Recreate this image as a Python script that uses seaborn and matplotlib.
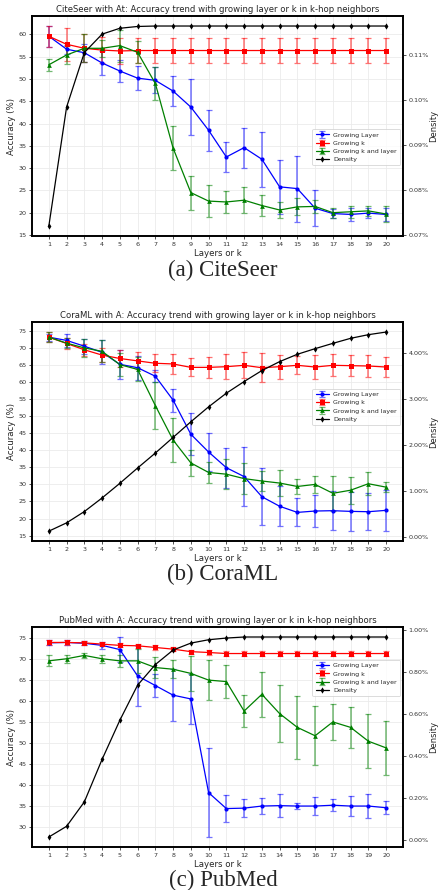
import numpy as np
import matplotlib
matplotlib.use("Agg")
import matplotlib.pyplot as plt
import seaborn as sns
from matplotlib.ticker import MultipleLocator, FuncFormatter

# ---------------- data ----------------
layers = list(range(1, 21))

# CiteSeer
cs_layer = [59.6, 56.7, 55.9, 53.6, 51.8, 50.2, 49.7, 47.3, 43.7, 38.5,
            32.5, 34.6, 32.0, 25.8, 25.4, 21.0, 19.8, 19.6, 19.9, 19.6]
cs_layer_err = [2.3, 1.0, 2.0, 2.8, 2.4, 2.7, 2.9, 3.4, 6.3, 4.6,
                3.4, 4.5, 6.2, 6.1, 7.4, 4.0, 1.0, 1.4, 1.2, 1.5]
cs_k = [59.6, 57.8, 56.9, 56.5, 56.3, 56.4, 56.4, 56.4, 56.4, 56.4,
        56.4, 56.4, 56.4, 56.4, 56.4, 56.4, 56.4, 56.4, 56.4, 56.4]
cs_k_err = [2.3, 3.7, 3.1, 3.0, 3.0, 2.9, 2.9, 2.9, 2.9, 2.9,
            2.9, 2.9, 2.9, 2.9, 2.9, 2.9, 2.9, 2.9, 2.9, 2.9]
cs_kl = [53.2, 55.4, 56.9, 56.9, 57.5, 56.0, 49.0, 34.5, 24.5, 22.6,
         22.4, 22.8, 21.6, 20.6, 21.3, 21.4, 20.0, 20.2, 20.4, 19.7]
cs_kl_err = [1.35, 2.0, 3.1, 1.9, 3.6, 2.5, 3.6, 5.0, 3.8, 3.55,
             2.5, 2.9, 2.3, 1.8, 1.9, 1.5, 1.1, 1.4, 1.2, 1.8]
cs_density = [0.0720, 0.0984, 0.1105, 0.1146, 0.1159, 0.1163, 0.1164, 0.1164, 0.1164, 0.1164,
              0.1164, 0.1164, 0.1164, 0.1164, 0.1164, 0.1164, 0.1164, 0.1164, 0.1164, 0.1164]

# CoraML
cm_layer = [73.15, 72.2, 70.5, 68.7, 65.2, 64.2, 61.7, 54.7, 44.7, 39.5,
            34.9, 32.3, 26.4, 23.6, 21.8, 22.2, 22.3, 22.1, 22.0, 22.4]
cm_layer_err = [1.0, 1.9, 2.2, 3.5, 4.3, 3.5, 1.8, 3.35, 6.1, 5.5,
                5.9, 8.7, 8.3, 5.85, 4.1, 4.7, 5.65, 5.8, 5.35, 6.1]
cm_k = [73.15, 71.3, 69.45, 67.9, 66.9, 66.2, 65.5, 65.3, 64.3, 64.3,
        64.5, 64.9, 64.2, 64.5, 64.9, 64.4, 64.9, 64.8, 64.7, 64.4]
cm_k_err = [1.5, 1.5, 1.75, 2.0, 2.5, 2.5, 2.6, 2.8, 2.6, 3.0,
            3.6, 3.85, 4.2, 3.5, 2.6, 3.65, 3.2, 3.1, 3.3, 3.0]
cm_kl = [73.15, 71.4, 70.0, 69.0, 65.1, 63.7, 53.1, 43.0, 36.3, 33.5,
         33.0, 31.7, 31.0, 30.4, 29.4, 30.0, 27.4, 28.3, 30.2, 29.2]
cm_kl_err = [1.5, 1.5, 2.6, 3.2, 3.4, 3.5, 6.9, 6.5, 3.75, 3.0,
             4.4, 4.6, 2.8, 3.7, 2.2, 2.4, 5.1, 3.9, 3.3, 1.5]
cm_density = [0.137, 0.317, 0.562, 0.857, 1.174, 1.506, 1.830, 2.169, 2.507, 2.831,
              3.127, 3.379, 3.617, 3.811, 3.970, 4.092, 4.207, 4.316, 4.395, 4.452]

# PubMed
pm_layer = [73.9, 74.0, 73.8, 73.3, 72.3, 66.0, 63.7, 61.4, 60.5, 38.1,
            34.3, 34.4, 34.9, 35.0, 34.9, 34.9, 35.1, 34.9, 34.9, 34.5]
pm_layer_err = [0.6, 0.5, 0.5, 0.9, 3.0, 7.2, 2.8, 6.2, 6.0, 10.6,
                3.2, 2.2, 2.0, 2.8, 0.7, 2.1, 1.4, 2.3, 2.8, 1.6]
pm_k = [74.0, 74.0, 73.9, 73.6, 73.3, 73.2, 72.8, 72.4, 71.8, 71.6,
        71.35, 71.35, 71.35, 71.35, 71.35, 71.35, 71.35, 71.35, 71.35, 71.35]
pm_k_err = [0.5, 0.5, 0.5, 0.5, 0.5, 0.5, 0.5, 0.5, 0.5, 0.5,
            0.5, 0.5, 0.5, 0.5, 0.5, 0.5, 0.5, 0.5, 0.5, 0.5]
pm_kl = [69.6, 70.1, 70.9, 70.1, 69.6, 69.6, 68.0, 67.6, 66.6, 65.0,
         64.65, 57.6, 61.6, 57.0, 53.7, 51.7, 55.0, 53.7, 50.4, 48.8]
pm_kl_err = [1.3, 0.9, 0.55, 1.0, 1.5, 2.9, 2.5, 2.1, 4.1, 4.7,
             3.9, 3.75, 5.45, 6.9, 7.6, 7.0, 4.4, 4.9, 6.5, 6.4]
pm_density = [0.0159, 0.0668, 0.183, 0.385, 0.571, 0.738, 0.836, 0.905, 0.938, 0.954,
              0.962, 0.967, 0.967, 0.967, 0.967, 0.967, 0.967, 0.967, 0.967, 0.967]

titles = ["CiteSeer with At: Accuracy trend with growing layer or k in k-hop neighbors",
          "CoraML with A: Accuracy trend with growing layer or k in k-hop neighbors",
          "PubMed with A: Accuracy trend with growing layer or k in k-hop neighbors"]
captions = ["(a) CiteSeer", "(b) CoraML", "(c) PubMed"]
series_names = ["Growing Layer", "Growing k", "Growing k and layer", "Density"]

panels = [
    (cs_layer, cs_layer_err, cs_k, cs_k_err, cs_kl, cs_kl_err, cs_density),
    (cm_layer, cm_layer_err, cm_k, cm_k_err, cm_kl, cm_kl_err, cm_density),
    (pm_layer, pm_layer_err, pm_k, pm_k_err, pm_kl, pm_kl_err, pm_density),
]

# ---------------- style ----------------
sns.set_theme(style="whitegrid")
plt.rcParams['font.family'] = ['DejaVu Sans']
plt.rcParams.update({
    'axes.edgecolor': 'black',
    'axes.linewidth': 1.2,
    'grid.color': '#ebebeb',
    'grid.linewidth': 0.6,
    'xtick.bottom': True, 'ytick.left': True,
    'xtick.major.size': 2.5, 'ytick.major.size': 2.5,
    'xtick.major.width': 0.6, 'ytick.major.width': 0.6,
    'xtick.color': '#333333', 'ytick.color': '#333333',
})

fig = plt.figure(figsize=(4.38, 8.9), dpi=100)
ax_rects = [[0.073, 0.7348, 0.847, 0.2472],
            [0.073, 0.392, 0.847, 0.2461],
            [0.073, 0.0483, 0.847, 0.2472]]
legend_anchor = [(1.0, 0.50), (1.0, 0.71), (1.0, 0.865)]
caption_y = [0.6966, 0.355, 0.011]

colors = ['blue', 'red', 'green']
markers = ['o', 's', '^']
msizes = [3.0, 3.6, 3.4]

for i, (lay, lay_e, kk, kk_e, kl, kl_e, dens) in enumerate(panels):
    ax = fig.add_axes(ax_rects[i])
    handles = []
    for yv, ye, c, m, ms, name in zip([lay, kk, kl], [lay_e, kk_e, kl_e],
                                      colors, markers, msizes, series_names[:3]):
        sns.lineplot(x=layers, y=yv, ax=ax, color=c, marker=m, markersize=ms,
                     markeredgewidth=0, linewidth=0.9, legend=False, zorder=3)
        line = ax.lines[-1]
        eb = ax.errorbar(layers, yv, yerr=ye, fmt='none', ecolor=c, alpha=0.55,
                         elinewidth=1.1, capsize=2.0, capthick=0.9, zorder=2)
        handles.append((eb, line))
    ax.yaxis.set_major_locator(MultipleLocator(5))
    ax.set_xticks(layers)
    ax.tick_params(axis='both', labelsize=4.6, pad=1.5)
    ax.set_xlabel("Layers or k", fontsize=6.2, labelpad=1.5)
    ax.set_ylabel("Accuracy (%)", fontsize=6.2, labelpad=2)
    ax.set_title(titles[i], fontsize=6.15, pad=3)
    ax.grid(True)

    ax2 = ax.twinx()
    sns.lineplot(x=layers, y=dens, ax=ax2, color='black', marker='d', markersize=3.2,
                 markeredgewidth=0, linewidth=0.9, legend=False, zorder=4)
    dline = ax2.lines[-1]
    ax2.grid(False)
    ax2.yaxis.set_major_formatter(FuncFormatter(lambda v, p: f"{v:.2f}%"))
    ax2.tick_params(axis='y', labelsize=4.6, pad=1.5, right=True, length=2.5, width=0.6)
    ax2.set_ylabel("Density", fontsize=6.0, labelpad=0.5)
    for s in ax2.spines.values():
        s.set_edgecolor('black')
        s.set_linewidth(1.2)

    leg = ax2.legend(handles + [dline], series_names, loc='upper right',
                     bbox_to_anchor=legend_anchor[i], fontsize=4.5, frameon=True,
                     borderpad=0.5, labelspacing=0.45, handlelength=2.2,
                     handletextpad=0.6, fancybox=True)
    leg.get_frame().set_edgecolor('#cccccc')
    leg.get_frame().set_linewidth(0.6)

    fig.text(0.509, caption_y[i], captions[i], ha='center', va='center',
             fontsize=16.5, family='Liberation Serif')

fig.savefig("out.png", dpi=100)
